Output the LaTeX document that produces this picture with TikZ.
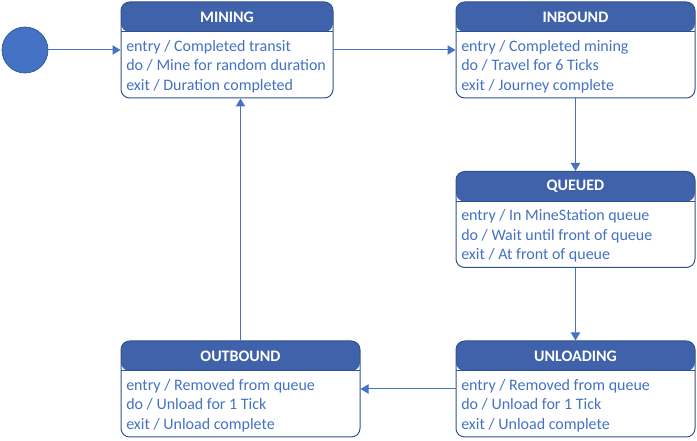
\documentclass[tikz,border=0pt]{standalone}
\usepackage{fontspec}
\setmainfont{Carlito}
\usetikzlibrary{positioning, arrows.meta}

\definecolor{hdrblue}{HTML}{3F62AB}
\definecolor{txtblue}{HTML}{4472C4}
\definecolor{edgeblue}{HTML}{2F528F}

\begin{document}
\begin{tikzpicture}[
    x=0.75pt,
    y=-0.75pt,
    font=\fontsize{12}{14.6}\selectfont,
    state/.style={
        rectangle,
        rounded corners=6.5pt,
        draw=edgeblue,
        line width=0.75pt,
        fill=white,
        minimum width=#1,
        minimum height=72pt,
        inner sep=0pt,
        path picture={
            \fill[hdrblue] (path picture bounding box.north west)
                rectangle ([yshift=-22.5pt]path picture bounding box.north east);
            \draw[edgeblue, line width=0.75pt] ([yshift=-22.5pt]path picture bounding box.north west)
                -- ([yshift=-22.5pt]path picture bounding box.north east);
        }
    },
    title/.style={
        text=white,
        font=\fontsize{12}{13}\selectfont\bfseries,
        inner sep=0pt
    },
    body/.style={
        text=txtblue,
        align=left,
        anchor=west,
        inner sep=0pt
    },
    arrow/.style={-{Triangle[length=6pt,width=7pt]}, draw=txtblue, line width=0.75pt}
]
\useasboundingbox (0,0) rectangle (697,441);

% Initial state
\node[circle, fill=txtblue, draw=edgeblue, line width=0.5pt, minimum size=34.5pt, inner sep=0pt] (start) at (25,50) {};

% States
\node[state=159pt] (mining) at (227,50) {};
\node[state=179.25pt] (inbound) at (575.5,50) {};
\node[state=179.25pt] (queued) at (575.5,219.5) {};
\node[state=179.25pt] (unloading) at (575.5,389) {};
\node[state=179.25pt] (outbound) at (240.5,389) {};

% Titles
\node[title] (mining-t) at (227,17) {MINING};
\node[title] (inbound-t) at (575.5,17) {INBOUND};
\node[title] (queued-t) at (575.5,186) {QUEUED};
\node[title] (unloading-t) at (575.5,356) {UNLOADING};
\node[title] (outbound-t) at (240.5,356) {OUTBOUND};

% Activities
\node[body] (mining-b) at (126,66.5) {entry / Completed transit\\do / Mine for random duration\\exit / Duration completed};
\node[body] (inbound-b) at (461,66.5) {entry / Completed mining\\do / Travel for 6 Ticks\\exit / Journey complete};
\node[body] (queued-b) at (461,236) {entry / In MineStation queue\\do / Wait until front of queue\\exit / At front of queue};
\node[body] (unloading-b) at (461,405.5) {entry / Removed from queue\\do / Unload for 1 Tick\\exit / Unload complete};
\node[body] (outbound-b) at (126,405.5) {entry / Removed from queue\\do / Unload for 1 Tick\\exit / Unload complete};

% Transitions
\draw[arrow] (start) -- (mining);
\draw[arrow] (mining) -- (inbound);
\draw[arrow] (inbound) -- (queued);
\draw[arrow] (queued) -- (unloading);
\draw[arrow] (unloading) -- (outbound);
\draw[arrow] (outbound.north) -- (outbound.north |- mining.south);

\end{tikzpicture}
\end{document}
